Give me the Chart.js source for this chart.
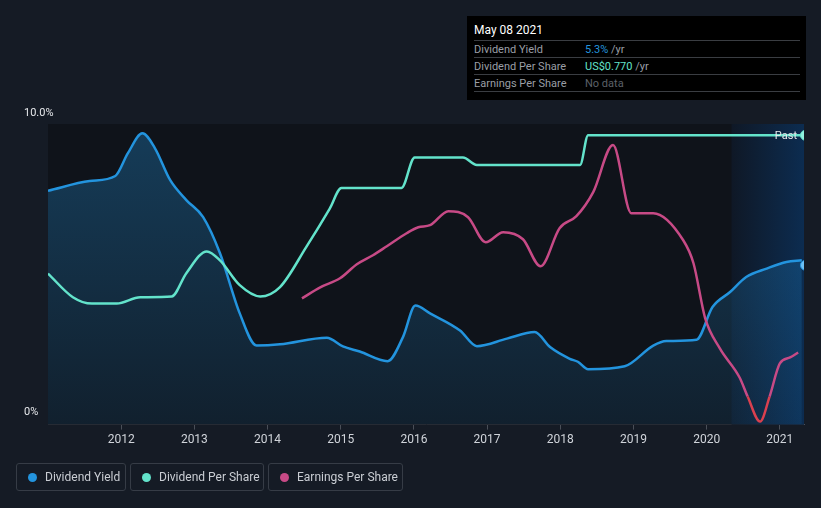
<!DOCTYPE html>
<html>
<head>
<meta charset="utf-8">
<script src="https://cdn.jsdelivr.net/npm/chart.js@4.4.1/dist/chart.umd.min.js"></script>
<style>
  html, body { margin: 0; padding: 0; background: #151b25; }
  body { width: 821px; height: 508px; position: relative; overflow: hidden; font-family: Roboto, 'Noto Sans', sans-serif; }
  #wrap { position: absolute; left: 0; top: 0; width: 821px; height: 508px; }
  .tip { position: absolute; left: 467px; top: 16px; width: 339px; height: 84px; background: #000; }
  .tip .t { position: absolute; left: 7px; top: 7px; color: #fff; font-size: 12px; }
  .tip .row { position: absolute; left: 7px; width: 326px; height: 17px; border-top: 1px solid #3a3d42; font-size: 11px; color: #9a9ea5; line-height: 17px; }
  .tip .row .v { position: absolute; left: 111px; top: 0; }
  .tip .last { position: absolute; left: 7px; top: 75px; width: 326px; border-top: 1px solid #3a3d42; }
  .legend { position: absolute; top: 463px; height: 28px; border: 1px solid #363c46; border-radius: 3px; box-sizing: border-box; color: #c9cdd3; font-size: 12px; line-height: 26px; }
  .legend i { position: absolute; left: 11px; top: 9px; width: 9px; height: 9px; border-radius: 50%; }
  .legend span { position: absolute; left: 28px; top: 0; white-space: nowrap; }
</style>
</head>
<body>
<div id="wrap"><canvas id="chart" width="821" height="508"></canvas></div>

<div class="tip">
  <div class="t">May 08 2021</div>
  <div class="row" style="top:24px">Dividend Yield<span class="v"><span style="color:#2394de">5.3%</span> /yr</span></div>
  <div class="row" style="top:41px">Dividend Per Share<span class="v"><span style="color:#63e3cb">US$0.770</span> /yr</span></div>
  <div class="row" style="top:58px">Earnings Per Share<span class="v" style="color:#5c6068">No data</span></div>
  <div class="last"></div>
</div>

<div class="legend" style="left:16px;width:110px"><i style="background:#2394de"></i><span>Dividend Yield</span></div>
<div class="legend" style="left:130px;width:134px"><i style="background:#63e3cb"></i><span>Dividend Per Share</span></div>
<div class="legend" style="left:268px;width:135px"><i style="background:#c74a86"></i><span>Earnings Per Share</span></div>

<script>
var COLORS = {
  yield: '#2394de',
  dps: '#63e3cb',
  eps: '#c74a86',
  epsNeg: '#d9404f',
  grid: '#3a3f48',
  axis: '#4a4f58',
  text: '#d0d4da'
};

// dividend yield, % (decimal year, value)
var yieldDates = [2011.00, 2011.57, 2011.92, 2012.09, 2012.29, 2012.46, 2012.67, 2012.89, 2013.12, 2013.35,
  2013.62, 2013.85, 2014.17, 2014.81, 2015.03, 2015.26, 2015.64, 2015.85, 2016.02, 2016.22,
  2016.63, 2016.86, 2017.27, 2017.65, 2017.86, 2018.13, 2018.24, 2018.38, 2018.88, 2019.27,
  2019.45, 2019.86, 2020.08, 2020.32, 2020.54, 2020.82, 2021.09, 2021.30];
var yieldValues = [7.78, 8.10, 8.27, 9.02, 9.69, 9.20, 8.13, 7.47, 6.90, 5.70,
  3.70, 2.63, 2.67, 2.89, 2.60, 2.43, 2.11, 2.91, 3.96, 3.70,
  3.13, 2.61, 2.86, 3.08, 2.58, 2.19, 2.09, 1.84, 1.94, 2.63,
  2.78, 2.82, 3.91, 4.41, 4.91, 5.19, 5.41, 5.47];

// dividend per share, US$
var dpsDates = [2011.00, 2011.34, 2011.60, 2011.94, 2012.26, 2012.69, 2012.89, 2013.17, 2013.35, 2013.62,
  2013.90, 2014.17, 2014.53, 2014.85, 2015.01, 2015.83, 2016.01, 2016.67, 2016.86, 2018.27,
  2018.38, 2021.33];
var dpsValues = [0.402, 0.339, 0.322, 0.322, 0.339, 0.341, 0.403, 0.461, 0.437, 0.371,
  0.341, 0.366, 0.473, 0.575, 0.630, 0.630, 0.711, 0.711, 0.691, 0.691,
  0.770, 0.770];

// earnings per share, US$
var epsDates = [2014.47, 2014.72, 2014.99, 2015.22, 2015.44, 2015.63, 2015.90, 2016.06, 2016.22, 2016.47,
  2016.74, 2016.98, 2017.22, 2017.49, 2017.73, 2017.99, 2018.22, 2018.45, 2018.72, 2018.97,
  2019.27, 2019.68, 2019.82, 2019.98, 2020.18, 2020.45, 2020.56, 2020.73, 2020.86, 2021.00,
  2021.14, 2021.25];
var epsValues = [0.98, 1.09, 1.18, 1.32, 1.41, 1.50, 1.63, 1.69, 1.71, 1.85,
  1.79, 1.54, 1.64, 1.57, 1.30, 1.68, 1.80, 2.04, 2.51, 1.83,
  1.83, 1.56, 1.33, 0.78, 0.48, 0.19, 0.00, -0.25, 0.00, 0.33,
  0.39, 0.44];

var yearTicks = [2012, 2013, 2014, 2015, 2016, 2017, 2018, 2019, 2020, 2021];
var lastDate = 2021.35;
var lastYield = 5.3;
var lastDps = 0.770;
var pastStart = 2020.34;

function toPoints(xs, ys) {
  return xs.map(function (x, i) { return { x: x, y: ys[i] }; });
}

var bgPlugin = {
  id: 'bg',
  beforeDatasetsDraw: function (chart) {
    var a = chart.chartArea, ctx = chart.ctx, xs = chart.scales.x;
    ctx.save();
    ctx.fillStyle = '#0f131a';
    ctx.fillRect(a.left, a.top, a.right - a.left, a.bottom - a.top);
    var px = xs.getPixelForValue(pastStart);
    var g = ctx.createLinearGradient(px, 0, a.right, 0);
    g.addColorStop(0, 'rgba(15,24,38,1)');
    g.addColorStop(1, 'rgba(12,44,80,1)');
    ctx.fillStyle = g;
    ctx.fillRect(px, a.top, a.right - px, a.bottom - a.top);
    ctx.restore();
  },
  afterDatasetsDraw: function (chart) {
    var a = chart.chartArea, ctx = chart.ctx;
    ctx.save();
    ctx.font = '11px Roboto, sans-serif';
    ctx.fillStyle = '#e6e8eb';
    ctx.textBaseline = 'middle';
    ctx.textAlign = 'left';
    ctx.fillText('10.0%', 24, a.top - 11);
    ctx.fillText('0%', 24, a.bottom - 12);
    ctx.textAlign = 'right';
    ctx.fillText('Past', a.right - 7, chart.scales.yD.getPixelForValue(lastDps) + 1);
    ctx.restore();
  }
};

var ctx = document.getElementById('chart');
new Chart(ctx, {
  type: 'line',
  data: {
    datasets: [
      {
        label: 'Yield marker',
        data: [{ x: lastDate, y: lastYield }],
        yAxisID: 'y',
        showLine: false,
        pointRadius: 5,
        pointBackgroundColor: '#6cc0f5',
        pointBorderColor: '#2394de',
        pointBorderWidth: 1,
        clip: 0
      },
      {
        label: 'DPS marker',
        data: [{ x: lastDate, y: lastDps }],
        yAxisID: 'yD',
        showLine: false,
        pointRadius: 5,
        pointBackgroundColor: '#8ff0de',
        pointBorderColor: '#63e3cb',
        pointBorderWidth: 1,
        clip: 0
      },
      {
        label: 'Earnings Per Share',
        data: toPoints(epsDates, epsValues),
        yAxisID: 'yE',
        borderColor: COLORS.eps,
        borderWidth: 2.5,
        pointRadius: 0,
        cubicInterpolationMode: 'monotone',
        segment: {
          borderColor: function (c) {
            return (c.p0.parsed.y < 0 || c.p1.parsed.y < 0) ? COLORS.epsNeg : COLORS.eps;
          }
        }
      },
      {
        label: 'Dividend Per Share',
        data: toPoints(dpsDates, dpsValues),
        yAxisID: 'yD',
        borderColor: COLORS.dps,
        borderWidth: 2.5,
        pointRadius: 0,
        cubicInterpolationMode: 'monotone'
      },
      {
        label: 'Dividend Yield',
        data: toPoints(yieldDates, yieldValues),
        yAxisID: 'y',
        borderColor: COLORS.yield,
        borderWidth: 2.5,
        pointRadius: 0,
        cubicInterpolationMode: 'monotone',
        fill: 'origin',
        backgroundColor: function (c) {
          var a = c.chart.chartArea;
          if (!a) return 'rgba(35,148,222,0.2)';
          var g = c.chart.ctx.createLinearGradient(0, a.top, 0, a.bottom);
          g.addColorStop(0, 'rgba(35,148,222,0.32)');
          g.addColorStop(1, 'rgba(35,148,222,0.10)');
          return g;
        }
      }
    ]
  },
  options: {
    responsive: false,
    animation: false,
    layout: { padding: { left: 48, right: 17, top: 124, bottom: 58 } },
    plugins: { legend: { display: false }, tooltip: { enabled: false } },
    scales: {
      x: {
        type: 'linear',
        min: 2011.0,
        max: 2021.33,
        afterBuildTicks: function (axis) {
          axis.ticks = yearTicks.map(function (v) { return { value: v }; });
        },
        ticks: {
          color: COLORS.text,
          font: { family: 'Roboto', size: 12 },
          padding: 3,
          maxRotation: 0,
          callback: function (v) { return String(v); }
        },
        grid: { drawOnChartArea: false, drawTicks: true, tickLength: 5, color: COLORS.axis },
        border: { color: COLORS.axis, width: 1 }
      },
      y: {
        min: 0,
        max: 10,
        afterBuildTicks: function (axis) {
          axis.ticks = [{ value: 5 }, { value: 10 }];
        },
        ticks: { display: false },
        grid: { color: COLORS.grid, drawTicks: false },
        border: { display: false }
      },
      yD: { display: false, min: 0, max: 0.8 },
      yE: { display: false, min: -0.28, max: 2.72 }
    }
  },
  plugins: [bgPlugin]
});
</script>
</body>
</html>
